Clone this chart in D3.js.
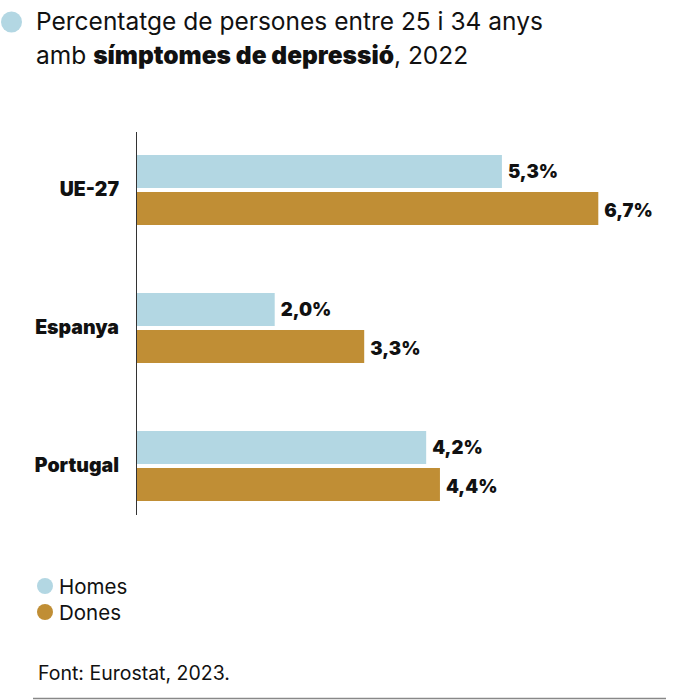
<!DOCTYPE html>
<html><head><meta charset="utf-8">
<script src="https://cdn.jsdelivr.net/npm/d3@7"></script>
<style>body{margin:0;background:#fff;} svg{display:block;font-family:Inter, "Noto Sans", sans-serif;}</style>
</head><body>
<svg id="c" width="700" height="700"></svg>
<script>
const categories = ["UE-27", "Espanya", "Portugal"];
const series = ["Homes", "Dones"];
const homes = [5.3, 2.0, 4.2];
const dones = [6.7, 3.3, 4.4];
const colors = ["#b3d7e3", "#c08e35"];

const svg = d3.select("#c");
const x = d3.scaleLinear().domain([0, 1]).range([137, 137 + 68.85]);
const y0 = d3.scaleBand().domain(categories).range([121, 535]).paddingInner(0);
const y1 = d3.scaleBand().domain(series).range([34, 104]).paddingInner(0.108);

const fmt = v => d3.format(".1f")(v).replace(".", ",") + "%";
const data = categories.map((c, i) => ({cat: c, vals: [homes[i], dones[i]]}));

// title
svg.append("circle").attr("cx", 11.5).attr("cy", 22).attr("r", 10.5).attr("fill", colors[0]);
const t = svg.append("text").attr("x", 36).attr("y", 30).attr("font-size", 24.5).attr("fill", "#111");
t.append("tspan").text("Percentatge de persones entre 25 i 34 anys");
const t2 = svg.append("text").attr("x", 36).attr("y", 64).attr("font-size", 24.5).attr("fill", "#111");
t2.append("tspan").text("amb ");
t2.append("tspan").attr("font-weight", 900).text("símptomes de depressió");
t2.append("tspan").text(", 2022");

// bars
const g = svg.selectAll("g.grp").data(data).join("g").attr("class", "grp")
  .attr("transform", d => `translate(0,${y0(d.cat)})`);
g.selectAll("rect").data(d => d.vals.map((v, j) => ({v, s: series[j], j})))
  .join("rect")
  .attr("x", x(0)).attr("y", d => y1(d.s))
  .attr("width", d => x(d.v) - x(0)).attr("height", y1.bandwidth())
  .attr("fill", d => colors[d.j]);
g.selectAll("text.val").data(d => d.vals.map((v, j) => ({v, s: series[j], j})))
  .join("text").attr("class", "val")
  .attr("x", d => x(d.v) + 6).attr("y", d => y1(d.s) + y1.bandwidth() / 2 + (d.j === 0 ? 6.5 : 8.5))
  .attr("font-size", 18.5).attr("font-weight", 900).attr("fill", "#111")
  .text(d => fmt(d.v));
g.append("text").attr("x", 119).attr("y", y0.bandwidth() / 2 + 6)
  .attr("text-anchor", "end").attr("font-size", 19.5).attr("font-weight", 900).attr("fill", "#111")
  .text(d => d.cat);

// axis line
svg.append("line").attr("x1", x(0) - 0.5).attr("x2", x(0) - 0.5).attr("y1", 132).attr("y2", 515)
  .attr("stroke", "#333").attr("stroke-width", 1);

// legend
const lg = svg.selectAll("g.leg").data(series).join("g").attr("class", "leg")
  .attr("transform", (d, i) => `translate(0,${586 + i * 26})`);
lg.append("circle").attr("cx", 45).attr("cy", 0).attr("r", 8).attr("fill", (d, i) => colors[i]);
lg.append("text").attr("x", 59).attr("y", 8).attr("font-size", 20.5).attr("fill", "#111").text(d => d);

// source
svg.append("text").attr("x", 38).attr("y", 680).attr("font-size", 19.5).attr("fill", "#111").text("Font: Eurostat, 2023.");
svg.append("line").attr("x1", 33).attr("x2", 666).attr("y1", 698.5).attr("y2", 698.5).attr("stroke", "#888").attr("stroke-width", 1.5);
</script>
</body></html>
